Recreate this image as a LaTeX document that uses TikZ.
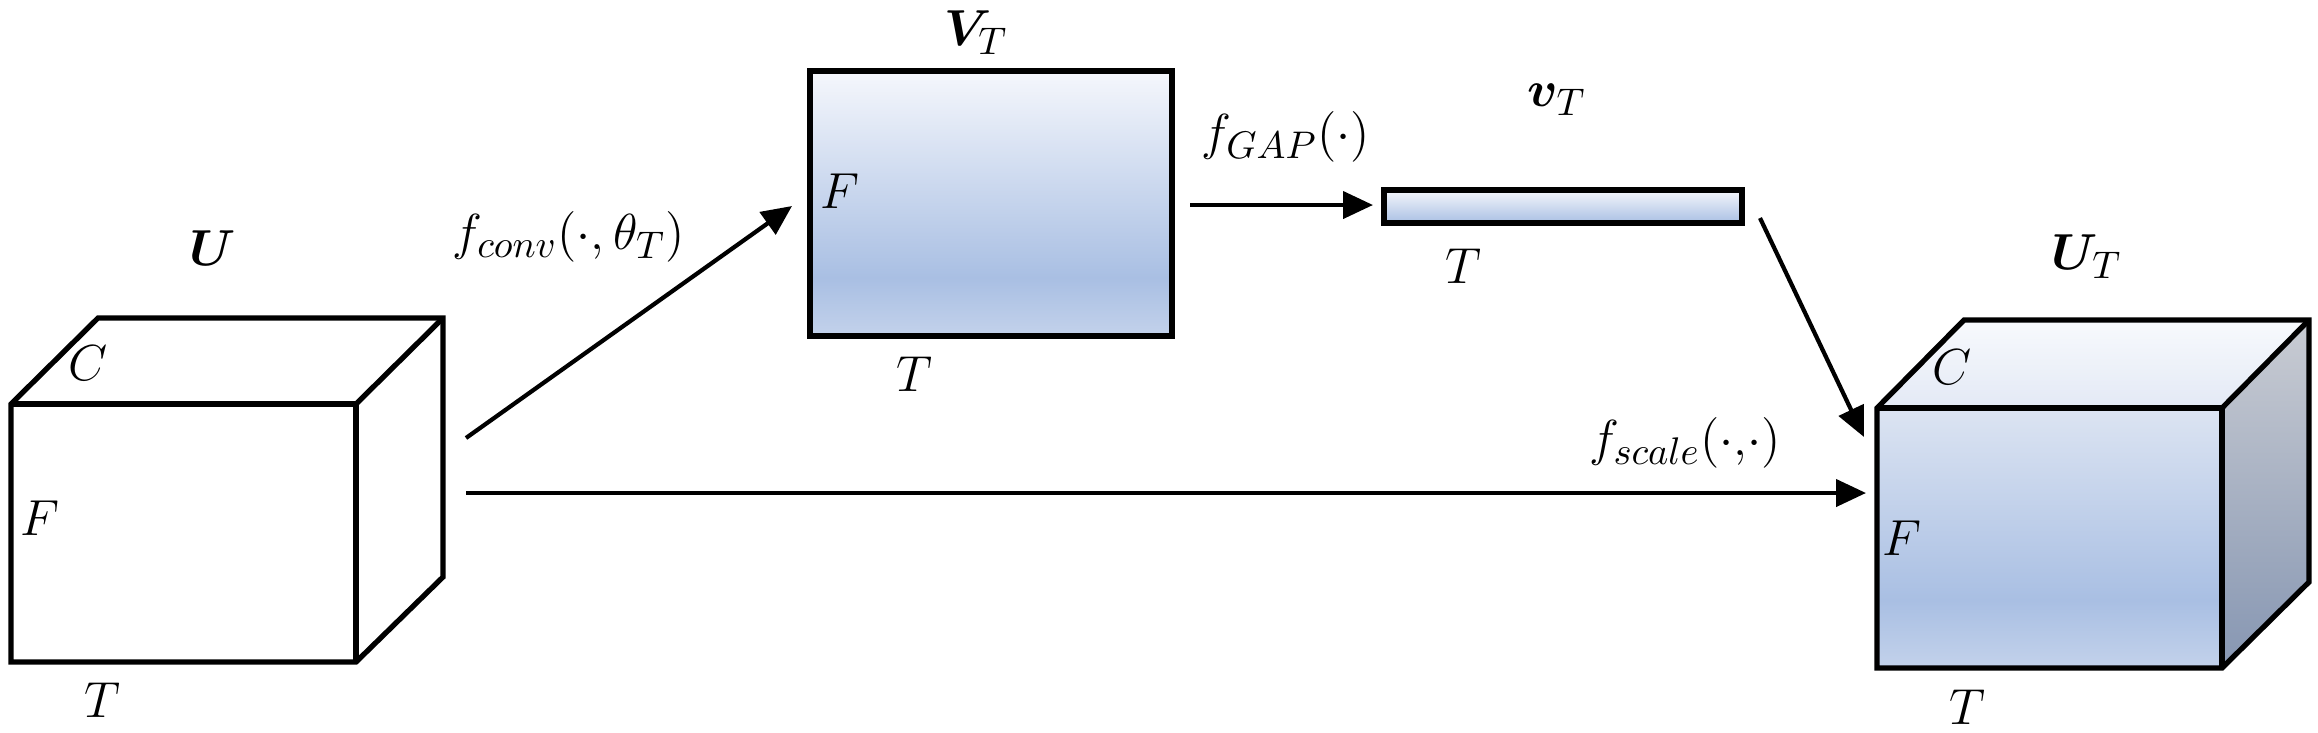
\documentclass[tikz,border=0pt]{standalone}
\usepackage{bm}
\usetikzlibrary{arrows.meta}
\definecolor{fTop}{HTML}{DCE4F2}
\definecolor{fMid}{HTML}{A9BFE3}
\definecolor{fBot}{HTML}{C3D2EB}
\definecolor{rTop}{HTML}{F5F7FC}
\definecolor{tTop}{HTML}{F8FAFD}
\definecolor{tBot}{HTML}{E3E9F5}
\definecolor{sTop}{HTML}{C9CCD3}
\definecolor{sBot}{HTML}{8696B2}
\pgfdeclareverticalshading{frontsh}{100bp}{color(0bp)=(fBot); color(25bp)=(fBot); color(38bp)=(fMid); color(75bp)=(fTop); color(100bp)=(fTop)}
\pgfdeclareverticalshading{rectsh}{100bp}{color(0bp)=(fBot); color(25bp)=(fBot); color(36bp)=(fMid); color(75bp)=(rTop); color(100bp)=(rTop)}
\pgfdeclareverticalshading{barsh}{100bp}{color(0bp)=(fMid); color(25bp)=(fMid); color(75bp)=(rTop); color(100bp)=(rTop)}
\pgfdeclareverticalshading{topsh}{100bp}{color(0bp)=(tBot); color(25bp)=(tBot); color(75bp)=(tTop); color(100bp)=(tTop)}
\pgfdeclareverticalshading{sidesh}{100bp}{color(0bp)=(sBot); color(25bp)=(sBot); color(75bp)=(sTop); color(100bp)=(sTop)}
\tikzset{
  edge/.style={draw=black, line width=1.5pt, line join=miter},
  conn/.style={draw=black, line width=1.2pt, -{Triangle[length=0.3cm,width=0.27cm]}},
  lab/.style={inner sep=0pt, font=\fontsize{15.5}{18}\selectfont},
}
\begin{document}
\begin{tikzpicture}[x=0.01cm, y=-0.01cm]
\useasboundingbox (0,0) rectangle (2318,732);
% ---- left cube U ----
\coordinate (ua) at (11,404);
\coordinate (ub) at (356,404);
\coordinate (uc) at (356,662);
\coordinate (ud) at (11,662);
\coordinate (ue) at (98,318);
\coordinate (uf) at (443,318);
\coordinate (ug) at (443,577);
\fill[white] (ud) -- (ua) -- (ue) -- (uf) -- (ug) -- (uc) -- cycle;
\draw[edge] (ud) -- (ua) -- (ue) -- (uf) -- (ug) -- (uc) -- cycle;
\draw[edge] (ua) -- (ub) -- (uc);
\draw[edge] (ub) -- (uf);
\node[lab] (lU) at (213,248) {$\bm{U}$};
\node[lab] (lUC) at (88,363) {$C$};
\node[lab] (lUF) at (40,518) {$F$};
\node[lab] (lUT) at (102,700) {$T$};
% ---- V_T rectangle ----
\coordinate (va) at (810,71);
\coordinate (vc) at (1172,336);
\draw[edge, shading=rectsh] (va) rectangle (vc);
\node[lab] (lV) at (976,33) {$\bm{V}_T$};
\node[lab] (lVF) at (840,191) {$F$};
\node[lab] (lVT) at (914,374) {$T$};
% ---- v_T bar ----
\coordinate (ba) at (1384,190);
\coordinate (bc) at (1742,223);
\draw[edge, shading=barsh] (ba) rectangle (bc);
\node[lab] (lv) at (1557,100) {$\bm{v}_T$};
\node[lab] (lvT) at (1463,266) {$T$};
% ---- right cube U_T ----
\coordinate (ra) at (1877,408);
\coordinate (rb) at (2222,408);
\coordinate (rc) at (2222,668);
\coordinate (rd) at (1877,668);
\coordinate (re) at (1964,320);
\coordinate (rf) at (2309,320);
\coordinate (rg) at (2309,582);
\shade[shading=frontsh] (ra) rectangle (rc);
\shade[shading=topsh] (ra) -- (re) -- (rf) -- (rb) -- cycle;
\shade[shading=sidesh] (rb) -- (rf) -- (rg) -- (rc) -- cycle;
\draw[edge] (rd) -- (ra) -- (re) -- (rf) -- (rg) -- (rc) -- cycle;
\draw[edge] (ra) -- (rb) -- (rc);
\draw[edge] (rb) -- (rf);
\node[lab] (lR) at (2087,257) {$\bm{U}_T$};
\node[lab] (lRC) at (1952,367) {$C$};
\node[lab] (lRF) at (1902,538) {$F$};
\node[lab] (lRT) at (1967,707) {$T$};
% ---- connectors ----
\coordinate (a1s) at (466,438);
\coordinate (a1e) at (792,206);
\coordinate (a2s) at (1190,205);
\coordinate (a2e) at (1373,205);
\coordinate (a3s) at (1760,218);
\coordinate (a3e) at (1864,437);
\coordinate (a4s) at (466,493);
\coordinate (a4e) at (1866,493);
\draw[conn] (a1s) -- (a1e);
\draw[conn] (a2s) -- (a2e);
\draw[conn] (a3s) -- (a3e);
\draw[conn] (a4s) -- (a4e);
\node[lab] (lconv) at (569,237) {$f_{conv}(\cdot,\theta_T)$};
\node[lab] (lgap) at (1286,137) {$f_{GAP}(\cdot)$};
\node[lab] (lscale) at (1685,443) {$f_{scale}(\cdot{,}\cdot)$};
\end{tikzpicture}
\end{document}
